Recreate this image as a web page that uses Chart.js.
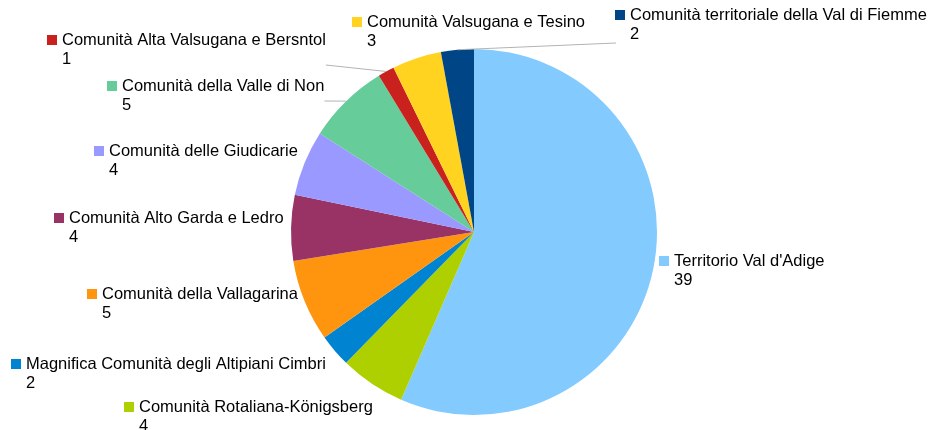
<!DOCTYPE html>
<html lang="en">
<head>
    <meta charset="UTF-8">
    <title>Comunità di valle</title>
    <script src="https://cdn.jsdelivr.net/npm/chart.js"></script>
    <style>
        html, body { margin: 0; padding: 0; background: #fff; }
        #wrap { position: relative; width: 933px; height: 430px; }
    </style>
</head>
<body>
    <div id="wrap"><canvas id="pieChart" width="933" height="430"></canvas></div>
    <script>
        const labels = [
            "Territorio Val d'Adige",
            'Comunità Rotaliana-Königsberg',
            'Magnifica Comunità degli Altipiani Cimbri',
            'Comunità della Vallagarina',
            'Comunità Alto Garda e Ledro',
            'Comunità delle Giudicarie',
            'Comunità della Valle di Non',
            'Comunità Alta Valsugana e Bersntol',
            'Comunità Valsugana e Tesino',
            'Comunità territoriale della Val di Fiemme'
        ];
        const values = [39, 4, 2, 5, 4, 4, 5, 1, 3, 2];
        const colors = ['#83caff', '#aecf00', '#0084d1', '#ff950e', '#993366',
                        '#9999ff', '#66cc99', '#c9211e', '#ffd320', '#004586'];

        // label box positions: [square left x, first line middle y, leader start ('r' = after text, 'l' = under square), leader dy]
        const labelPos = [
            [659, 261, null, 0],
            [124, 407, null, 0],
            [11, 364, null, 0],
            [87, 294, null, 0],
            [54, 218, null, 0],
            [94, 151, null, 0],
            [107, 86, 'r', 15],
            [47, 40, 'r', 25],
            [352, 22, null, 0],
            [615, 15, 'l', 28]
        ];

        const outsideLabels = {
            id: 'outsideLabels',
            afterDatasetsDraw(chart) {
                const ctx = chart.ctx;
                const arcs = chart.getDatasetMeta(0).data;
                ctx.save();
                ctx.font = '16.5px "Liberation Sans", Arial, sans-serif';
                ctx.textBaseline = 'middle';
                ctx.textAlign = 'left';
                arcs.forEach((arc, i) => {
                    const [sx, sy, leader, ldy] = labelPos[i];
                    const tx = sx + 15;
                    if (leader) {
                        const mid = (arc.startAngle + arc.endAngle) / 2;
                        const ex = arc.x + Math.cos(mid) * arc.outerRadius;
                        const ey = arc.y + Math.sin(mid) * arc.outerRadius;
                        const w = ctx.measureText(labels[i]).width;
                        const lx = leader === 'r' ? tx + w : sx + 1;
                        ctx.strokeStyle = '#b3b3b3';
                        ctx.lineWidth = 1;
                        ctx.beginPath();
                        ctx.moveTo(lx, sy + ldy);
                        ctx.lineTo(ex, ey);
                        ctx.stroke();
                    }
                    ctx.fillStyle = colors[i];
                    ctx.fillRect(sx, sy - 5, 10, 10);
                    ctx.fillStyle = '#000';
                    ctx.fillText(labels[i], tx, sy);
                    ctx.fillText(String(values[i]), tx, sy + 19);
                });
                ctx.restore();
            }
        };

        new Chart(document.getElementById('pieChart'), {
            type: 'pie',
            data: {
                labels: labels,
                datasets: [{
                    data: values,
                    backgroundColor: colors,
                    borderWidth: 0
                }]
            },
            options: {
                responsive: false,
                animation: false,
                layout: { padding: { top: 49, bottom: 15, left: 15, right: 0 } },
                plugins: {
                    legend: { display: false },
                    tooltip: { enabled: false }
                }
            },
            plugins: [outsideLabels]
        });
    </script>
</body>
</html>
